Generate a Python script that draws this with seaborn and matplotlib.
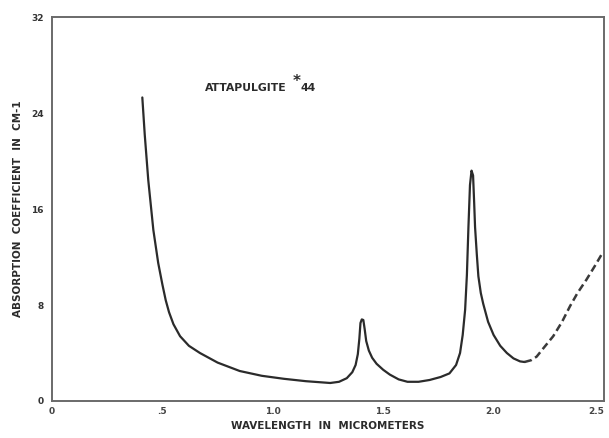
import matplotlib
matplotlib.use("Agg")
import matplotlib.pyplot as plt
import seaborn as sns
import pandas as pd

# measured absorption curve (solid part)
wavelength = [0.409, 0.42, 0.436, 0.459, 0.481, 0.50, 0.515, 0.53, 0.55, 0.58,
              0.62, 0.67, 0.75, 0.85, 0.95, 1.05, 1.15, 1.26, 1.30, 1.335,
              1.36, 1.375, 1.385, 1.392, 1.397, 1.403, 1.41, 1.416, 1.423, 1.435,
              1.45, 1.47, 1.50, 1.53, 1.57, 1.61, 1.66, 1.71, 1.76, 1.80,
              1.83, 1.848, 1.86, 1.871, 1.879, 1.886, 1.893, 1.900, 1.907, 1.912,
              1.916, 1.924, 1.931, 1.942, 1.953, 1.975, 2.0, 2.03, 2.06, 2.09,
              2.12, 2.14]
absorption = [25.3, 22.2, 18.4, 14.25, 11.5, 9.7, 8.4, 7.4, 6.4, 5.4,
              4.6, 4.0, 3.2, 2.5, 2.1, 1.85, 1.65, 1.5, 1.6, 1.9,
              2.4, 3.0, 3.9, 5.2, 6.5, 6.8, 6.75, 6.0, 5.0, 4.2,
              3.6, 3.1, 2.6, 2.2, 1.8, 1.6, 1.6, 1.75, 2.0, 2.3,
              3.0, 4.0, 5.5, 7.6, 10.5, 14.5, 18.0, 19.2, 18.8, 16.5,
              14.5, 12.2, 10.4, 9.0, 8.1, 6.6, 5.5, 4.6, 4.0, 3.55,
              3.3, 3.25]

# extrapolated part (dashed)
wavelength_ext = [2.14, 2.17, 2.195, 2.23, 2.27, 2.31, 2.346, 2.38, 2.42, 2.46, 2.495]
absorption_ext = [3.25, 3.4, 3.7, 4.5, 5.4, 6.6, 7.9, 9.0, 10.1, 11.3, 12.4]

xticks = [0, 0.5, 1.0, 1.5, 2.0, 2.5]
xticklabels = ["0", ".5", "1.0", "1.5", "2.0", "2.5"]
yticks = [0, 8, 16, 24, 32]

sns.set_style("white")
plt.rcParams['font.family'] = ['DejaVu Sans']

fig = plt.figure(figsize=(6.09, 4.38), dpi=100)
ax = fig.add_axes([0.0854, 0.0845, 0.9064, 0.8765])

df = pd.DataFrame({"x": wavelength, "y": absorption})
df_ext = pd.DataFrame({"x": wavelength_ext, "y": absorption_ext})
sns.lineplot(data=df, x="x", y="y", ax=ax, color="#2b2b2b", lw=1.6, sort=False)
sns.lineplot(data=df_ext, x="x", y="y", ax=ax, color="#3a3a3a", lw=1.8,
             sort=False, dashes=False, linestyle=(0, (3, 1.6)))

ax.set_xlim(0, 2.5)
ax.set_ylim(0, 32)
ax.set_xticks(xticks)
ax.set_xticklabels(xticklabels)
ax.set_yticks(yticks)

for s in ax.spines.values():
    s.set_color("#6a6a6a")
    s.set_linewidth(1.4)

ax.tick_params(axis="x", direction="in", length=4, width=1, colors="#6a6a6a",
               labelcolor="#444444", labelsize=6.5, pad=4)
ax.tick_params(axis="y", direction="out", length=3, width=1, colors="#6a6a6a",
               labelcolor="#333333", labelsize=6.5, pad=3)
for lab in ax.get_xticklabels() + ax.get_yticklabels():
    lab.set_fontweight("bold")
# last x label sits right at the figure edge
ax.get_xticklabels()[-1].set_horizontalalignment("right")

ax.set_xlabel("WAVELENGTH  IN  MICROMETERS", fontsize=7.5, fontweight="bold",
              color="#2b2b2b", labelpad=4)
ax.set_ylabel("ABSORPTION  COEFFICIENT  IN  CM-1", fontsize=7.5, fontweight="bold",
              color="#2b2b2b", labelpad=6)

ax.text(0.693, 26.1, "ATTAPULGITE", fontsize=7.8, fontweight="bold",
        color="#2b2b2b", va="center")
ax.text(1.09, 26.6, "*", fontsize=11, fontweight="bold", color="#2b2b2b", va="center")
ax.text(1.125, 26.1, "44", fontsize=7.8, fontweight="bold", color="#2b2b2b", va="center")

fig.savefig("out.png", dpi=100)
